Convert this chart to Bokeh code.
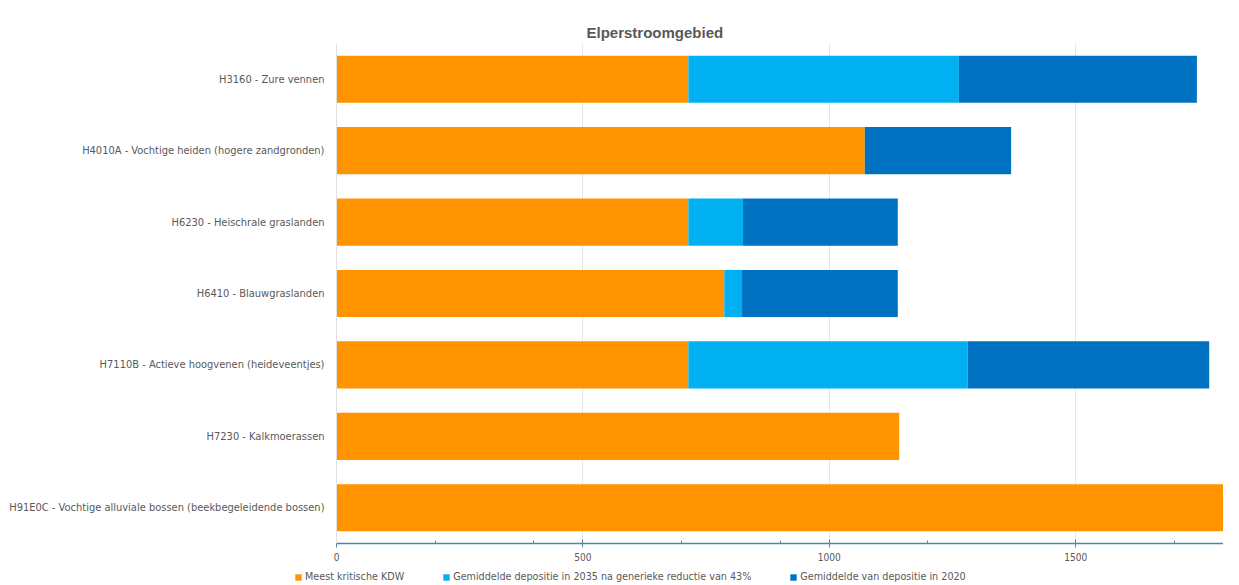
from bokeh.plotting import figure
from bokeh.layouts import column, row
from bokeh.models import ColumnDataSource, Range1d, FixedTicker, Legend, Title
from bokeh.embed import file_html
from bokeh.resources import INLINE

habitats = [
    "H3160 - Zure vennen",
    "H4010A - Vochtige heiden (hogere zandgronden)",
    "H6230 - Heischrale graslanden",
    "H6410 - Blauwgraslanden",
    "H7110B - Actieve hoogvenen (heideveentjes)",
    "H7230 - Kalkmoerassen",
    "H91E0C - Vochtige alluviale bossen (beekbegeleidende bossen)",
]
kdw = [714, 1072, 714, 787, 714, 1142, 1800]
dep_2035 = [549, 0, 111, 36, 567, 0, 0]
dep_2020 = [483, 297, 314, 316, 490, 0, 0]

series_names = [
    "Meest kritische KDW",
    "Gemiddelde depositie in 2035 na generieke reductie van 43%",
    "Gemiddelde van depositie in 2020",
]
colors = ["#FF9400", "#00B0F0", "#0070C0"]

major_ticks = [0, 500, 1000, 1500]
minor_ticks = [200, 400, 700, 900, 1200, 1700]

src = ColumnDataSource(dict(hab=habitats, kdw=kdw, d2035=dep_2035, d2020=dep_2020))

FONT = "DejaVu Sans Condensed, Liberation Sans, sans-serif"
GREY = "#595959"

p = figure(
    width=1223, height=564,
    y_range=list(reversed(habitats)),
    x_range=Range1d(0, 1800),
    output_backend="svg", toolbar_location=None,
    min_border_left=336, min_border_right=0, min_border_top=43, min_border_bottom=21,
    outline_line_color=None,
)

p.hbar_stack(["kdw", "d2035", "d2020"], y="hab", height=0.66,
             color=colors, source=src, line_color=None)

title = Title(text="Elperstroomgebied", text_font="Liberation Sans",
              text_font_style="bold", text_font_size="15px", text_color=GREY,
              align="left", offset=250, standoff=6)
p.add_layout(title, "above")

ticker = FixedTicker(ticks=major_ticks, minor_ticks=minor_ticks)
p.xaxis.ticker = ticker
p.xaxis.axis_line_color = "#4E86A8"
p.xaxis.axis_line_width = 1.3
p.xaxis.major_tick_line_color = "#4E86A8"
p.xaxis.minor_tick_line_color = "#4E86A8"
p.xaxis.major_tick_in = 4
p.xaxis.major_tick_out = 4
p.xaxis.minor_tick_in = 3
p.xaxis.minor_tick_out = 0
p.xaxis.major_label_text_font = FONT
p.xaxis.major_label_text_font_size = "10px"
p.xaxis.major_label_text_color = GREY
p.xaxis.major_label_standoff = 5

p.yaxis.axis_line_color = "#E0E0E0"
p.yaxis.major_tick_line_color = None
p.yaxis.minor_tick_line_color = None
p.yaxis.major_tick_out = 0
p.yaxis.major_tick_in = 0
p.yaxis.major_label_text_font = FONT
p.yaxis.major_label_text_font_size = "11px"
p.yaxis.major_label_text_color = GREY
p.yaxis.major_label_standoff = 12

p.xgrid.ticker = FixedTicker(ticks=[500, 1000, 1500])
p.xgrid.grid_line_color = "#E6E6E6"
p.ygrid.grid_line_color = None
p.y_range.range_padding = 0

# legend strip below the chart
leg = figure(width=1223, height=19, x_range=(0, 1), y_range=(0, 1),
             output_backend="svg", toolbar_location=None,
             min_border=0, outline_line_color=None)
leg.axis.visible = False
leg.grid.visible = False
dummy = []
for c in colors:
    dummy.append(leg.hbar(y=[-10], right=[-10], height=0.5, color=c, line_color=None))

legend = Legend(items=[(n, [r]) for n, r in zip(series_names, dummy)],
                orientation="horizontal", location=(294, 0),
                glyph_width=8, glyph_height=8, label_height=12,
                label_text_font=FONT, label_text_font_size="10.7px",
                label_text_color=GREY, label_standoff=3, spacing=38,
                padding=0, margin=0, border_line_color=None,
                background_fill_alpha=0)
leg.add_layout(legend, "center")

layout = column(p, row(leg, spacing=0), spacing=0)

open("out.html", "w").write(file_html(layout, INLINE))
